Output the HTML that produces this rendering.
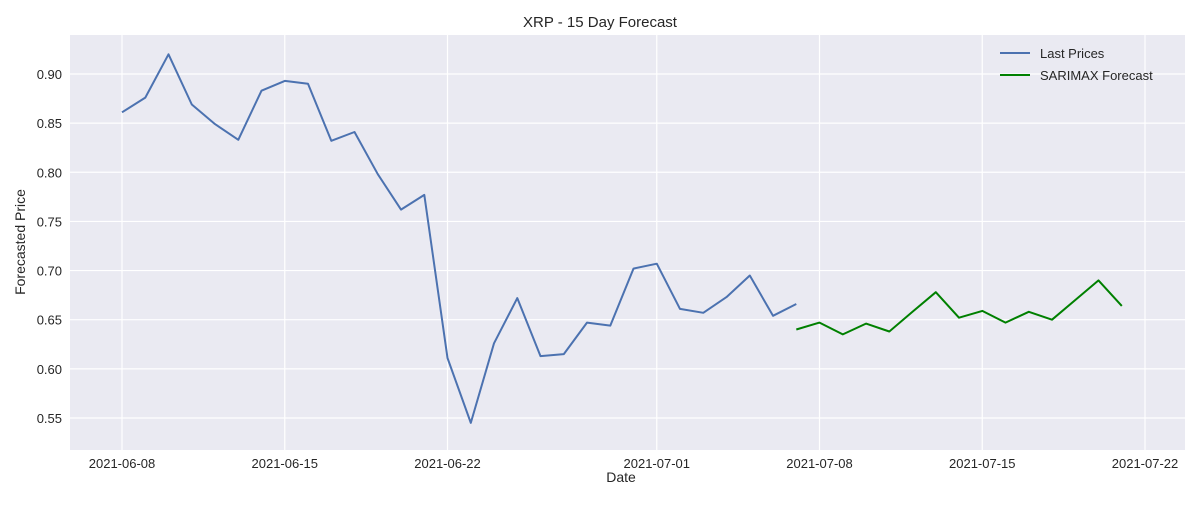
<!DOCTYPE html>
<html><head><meta charset="utf-8"><style>
body{margin:0;background:#fff;font-family:"Liberation Sans",sans-serif;}
svg text{font-family:"Liberation Sans",sans-serif;fill:#262626;}
</style></head><body>
<svg width="1200" height="500">
<text x="600" y="27" font-size="15" text-anchor="middle">XRP - 15 Day Forecast</text>
<rect x="70" y="35" width="1115" height="415" fill="#eaeaf2"/>
<g id="grid"></g><g id="ticks"></g><g id="series"></g>
<text x="621" y="482" font-size="14" text-anchor="middle">Date</text>
<text x="25" y="242" font-size="14" text-anchor="middle" transform="rotate(-90 25 242)">Forecasted Price</text>
<g>
<line x1="1000" y1="53" x2="1030" y2="53" stroke="#4c72b0" stroke-width="2"/>
<text x="1040" y="58" font-size="13">Last Prices</text>
<line x1="1000" y1="75" x2="1030" y2="75" stroke="#008000" stroke-width="2"/>
<text x="1040" y="80" font-size="13">SARIMAX Forecast</text>
</g>
</svg>
<script>
const yTicks=[0.55,0.60,0.65,0.70,0.75,0.80,0.85,0.90];
const xTickLabels=["2021-06-08","2021-06-15","2021-06-22","2021-07-01","2021-07-08","2021-07-15","2021-07-22"];
const lastStart="2021-06-08";
const lastPrices=[0.861,0.876,0.920,0.869,0.849,0.833,0.883,0.893,0.890,0.832,0.841,0.798,0.762,0.777,0.611,0.545,0.626,0.672,0.613,0.615,0.647,0.644,0.702,0.707,0.661,0.657,0.673,0.695,0.654,0.666];
const fcStart="2021-07-07";
const forecast=[0.640,0.647,0.635,0.646,0.638,0.658,0.678,0.652,0.659,0.647,0.658,0.650,0.670,0.690,0.664];
const NS="http://www.w3.org/2000/svg";
const d0=Date.parse("2021-06-08"),DAY=86400000;
function xs(t){return 122+(t-d0)/DAY*23.25;}
function ys(v){return 74+(0.90-v)/0.05*49.14;}
function mk(tag,at,parent){const e=document.createElementNS(NS,tag);for(const k in at)e.setAttribute(k,at[k]);document.getElementById(parent).appendChild(e);return e;}
yTicks.forEach(v=>{
 const l=mk("line",{x1:70,x2:1185,y1:ys(v),y2:ys(v),stroke:"#fff","stroke-width":1.2},"grid");
 
 
 const t=mk("text",{x:62,y:ys(v)+5,"font-size":13,"text-anchor":"end"},"ticks");t.textContent=v.toFixed(2);
 
 
});
xTickLabels.forEach(s=>{
 const x=xs(Date.parse(s));
 const l=mk("line",{x1:x,x2:x,y1:35,y2:450,stroke:"#fff","stroke-width":1.2},"grid");
 
 
 const t=mk("text",{x:x,y:468,"font-size":13,"text-anchor":"middle"},"ticks");t.textContent=s;
 
 
});
function line(arr,start,color,name){
 const s=Date.parse(start);
 const pts=arr.map((v,i)=>xs(s+i*DAY).toFixed(1)+","+ys(v).toFixed(1)).join(" ");
 const p=mk("polyline",{points:pts,fill:"none",stroke:color,"stroke-width":2,"stroke-linejoin":"round"},"series");
 
 
}
line(lastPrices,lastStart,"#4c72b0","last-prices-line");
line(forecast,fcStart,"#008000","forecast-line");
</script>
</body></html>
